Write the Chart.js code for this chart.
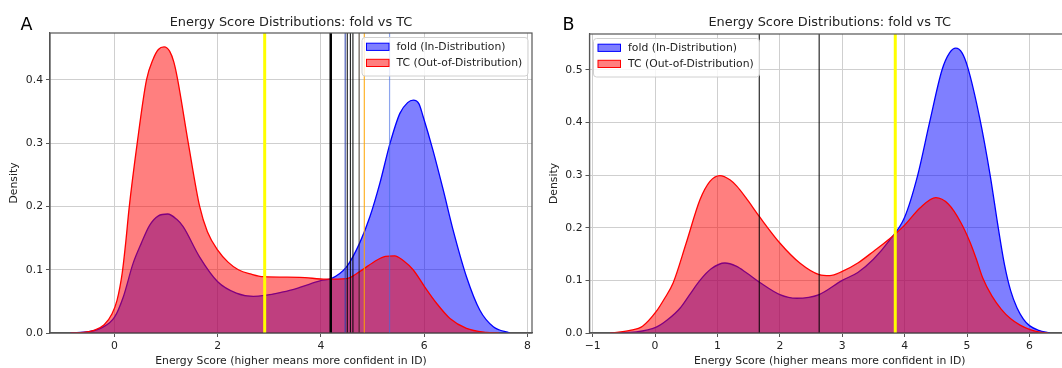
<!DOCTYPE html>
<html>
<head>
<meta charset="utf-8">
<script src="https://cdn.jsdelivr.net/npm/chart.js@4.4.0/dist/chart.umd.min.js"></script>
<style>
html, body { margin: 0; padding: 0; background: #fff; }
#wrap { position: relative; width: 1062px; height: 368px; overflow: hidden; }
canvas { position: absolute; top: 0; }
#cA { left: 0; }
#cB { left: 540px; }
</style>
</head>
<body>
<div id="wrap">
  <canvas id="cA" width="540" height="368"></canvas>
  <canvas id="cB" width="540" height="368"></canvas>
</div>
<script>
// ---- panel A: densities ----
var aFoldX = [-0.85, -0.5, -0.25, 0, 0.17, 0.36, 0.52, 0.68, 0.85, 1.03, 1.2, 1.33, 1.65, 2.0, 2.36, 2.69, 3.27, 3.59, 4.01, 4.2, 4.5, 4.75, 4.95, 5.14, 5.34, 5.53, 5.68, 5.79, 5.9, 5.98, 6.17, 6.37, 6.56, 6.82, 7.08, 7.34, 7.66];
var aFoldY = [0, 0.002, 0.008, 0.025, 0.057, 0.11, 0.142, 0.17, 0.185, 0.188, 0.18, 0.168, 0.12, 0.081, 0.063, 0.058, 0.065, 0.072, 0.083, 0.086, 0.105, 0.142, 0.184, 0.236, 0.30, 0.347, 0.364, 0.368, 0.362, 0.342, 0.289, 0.226, 0.163, 0.089, 0.036, 0.01, 0];
var aTcX = [-0.85, -0.6, -0.4, -0.2, -0.05, 0.05, 0.15, 0.22, 0.28, 0.44, 0.62, 0.75, 0.85, 0.96, 1.07, 1.15, 1.22, 1.43, 1.65, 1.8, 2.0, 2.2, 2.4, 2.65, 2.88, 3.59, 4.1, 4.5, 4.75, 5.08, 5.25, 5.43, 5.6, 5.79, 6.01, 6.24, 6.5, 6.82, 7.21, 7.45];
var aTcY = [0, 0.001, 0.004, 0.013, 0.03, 0.052, 0.095, 0.145, 0.195, 0.3, 0.4, 0.433, 0.448, 0.452, 0.445, 0.428, 0.402, 0.3, 0.2, 0.16, 0.131, 0.112, 0.1, 0.093, 0.089, 0.088, 0.085, 0.086, 0.097, 0.115, 0.121, 0.122, 0.114, 0.0995, 0.073, 0.047, 0.023, 0.0074, 0.001, 0];
var aCutX = [2.91, 4.19, 4.47, 4.51, 4.57, 4.62, 4.74, 4.84, 5.33];
var aXTicks = [0, 2, 4, 6, 8];
var aYTicks = [0, 0.1, 0.2, 0.3, 0.4];

// ---- panel B ----
var bFoldX = [-0.7, -0.3, 0.02, 0.2, 0.4, 0.55, 0.72, 0.9, 1.12, 1.3, 1.47, 1.68, 2.0, 2.27, 2.63, 3.0, 3.25, 3.5, 3.75, 4.0, 4.21, 4.4, 4.6, 4.72, 4.82, 4.92, 5.01, 5.2, 5.37, 5.5, 5.6, 5.7, 5.8, 5.9, 6.0, 6.15, 6.32];
var bFoldY = [0, 0.002, 0.011, 0.025, 0.047, 0.072, 0.10, 0.122, 0.133, 0.127, 0.114, 0.096, 0.073, 0.066, 0.073, 0.10, 0.115, 0.14, 0.175, 0.22, 0.3, 0.4, 0.5, 0.532, 0.541, 0.532, 0.505, 0.41, 0.3, 0.2, 0.13, 0.08, 0.048, 0.027, 0.014, 0.005, 0];
var bTcX = [-0.72, -0.4, -0.2, 0.02, 0.15, 0.29, 0.5, 0.72, 0.88, 1.04, 1.2, 1.31, 1.45, 1.68, 2.0, 2.32, 2.63, 2.8, 3.0, 3.25, 3.5, 3.75, 4.0, 4.25, 4.5, 4.7, 4.9, 5.05, 5.15, 5.25, 5.4, 5.55, 5.7, 5.85, 6.0, 6.15, 6.3];
var bTcY = [0, 0.005, 0.013, 0.041, 0.065, 0.095, 0.171, 0.253, 0.288, 0.299, 0.291, 0.279, 0.258, 0.22, 0.171, 0.133, 0.111, 0.109, 0.117, 0.133, 0.155, 0.178, 0.205, 0.238, 0.257, 0.245, 0.21, 0.172, 0.14, 0.105, 0.07, 0.045, 0.027, 0.015, 0.007, 0.002, 0];
var bCutX = [1.67, 2.63, 3.85];
var bXTicks = [-1, 0, 1, 2, 3, 4, 5, 6];
var bYTicks = [0, 0.1, 0.2, 0.3, 0.4, 0.5];

// styles for the threshold lines (same order as the cut arrays)
var aCutStyle = [
  { color: '#ffff00', width: 3 },
  { color: '#000000', width: 2.5 },
  { color: '#2a3fa8', width: 1 },
  { color: '#000000', width: 1 },
  { color: '#000000', width: 1 },
  { color: '#000000', width: 1 },
  { color: 'rgba(40,25,10,0.85)', width: 1 },
  { color: '#ffa500', width: 1 },
  { color: 'rgba(65,105,225,0.6)', width: 1.2 }
];
var bCutStyle = [
  { color: '#000000', width: 1 },
  { color: '#000000', width: 1 },
  { color: '#ffff00', width: 3 }
];

var FONT = '"DejaVu Sans", sans-serif';
var TXT = '#222';
var GRID = '#cfcfcf';
var SPINE = '#555';
var TITLE = 'Energy Score Distributions: fold vs TC';
var XLABEL = 'Energy Score (higher means more confident in ID)';
var FOLD_LBL = 'fold (In-Distribution)';
var TC_LBL = 'TC (Out-of-Distribution)';
var BLUE_FILL = 'rgba(0,0,255,0.5)', RED_FILL = 'rgba(255,0,0,0.5)';

function pts(xs, ys) {
  return xs.map(function (x, i) { return { x: x, y: ys[i] }; });
}

function curve(label, xs, ys, line, fillc, order) {
  return {
    label: label, data: pts(xs, ys),
    borderColor: line, backgroundColor: fillc, borderWidth: 1.3,
    fill: 'origin', pointRadius: 0, cubicInterpolationMode: 'monotone', order: order
  };
}

function cutLine(x, st, yTop) {
  return {
    label: '', data: [{ x: x, y: 0 }, { x: x, y: yTop }],
    borderColor: st.color, borderWidth: st.width, pointRadius: 0, fill: false, order: 0
  };
}

function fmtX(v) { return v < 0 ? '\u2212' + Math.abs(v) : String(v); }
function fmtY(v) { return v.toFixed(1); }

function decorPlugin(p) {
  return {
    id: 'decor',
    afterDatasetsDraw: function (chart) {
      var ctx = chart.ctx, ca = chart.chartArea;
      ctx.save();
      // four spines like matplotlib
      ctx.strokeStyle = SPINE; ctx.lineWidth = 1.2;
      ctx.strokeRect(ca.left, ca.top, ca.right - ca.left, ca.bottom - ca.top);

      // legend box
      var w = 166, h = 38.5;
      var lx = p.legendRight ? ca.right - 4 - w : ca.left + 4;
      var ly = ca.top + 4.5;
      ctx.fillStyle = 'rgba(255,255,255,0.8)';
      ctx.strokeStyle = '#d0d0d0'; ctx.lineWidth = 1;
      ctx.beginPath(); ctx.roundRect(lx, ly, w, h, 3); ctx.fill(); ctx.stroke();
      var items = [
        { label: FOLD_LBL, fill: BLUE_FILL, line: '#0000ff' },
        { label: TC_LBL, fill: RED_FILL, line: '#ff0000' }
      ];
      ctx.font = '10.8px ' + FONT;
      ctx.textBaseline = 'middle';
      items.forEach(function (it, i) {
        var cy = ly + 9.3 + i * 16.1;
        ctx.fillStyle = it.fill;
        ctx.fillRect(lx + 4.5, cy - 3.6, 22.5, 7.2);
        ctx.strokeStyle = it.line; ctx.lineWidth = 1;
        ctx.strokeRect(lx + 4.5, cy - 3.6, 22.5, 7.2);
        ctx.fillStyle = TXT;
        ctx.fillText(it.label, lx + 34.5, cy);
      });

      // title and panel letter
      ctx.fillStyle = TXT;
      ctx.textAlign = 'center';
      ctx.font = '12.9px ' + FONT;
      ctx.fillText(TITLE, (ca.left + ca.right) / 2, 22.5);
      ctx.fillStyle = '#000';
      ctx.textAlign = 'left';
      ctx.textBaseline = 'alphabetic';
      ctx.font = '17.5px ' + FONT;
      ctx.fillText(p.letter, p.letterX, 29.5);
      ctx.restore();
    }
  };
}

function panel(id, p) {
  var datasets = [
    curve(FOLD_LBL, p.foldX, p.foldY, '#0000ff', BLUE_FILL, 2),
    curve(TC_LBL, p.tcX, p.tcY, '#ff0000', RED_FILL, 1)
  ];
  p.cutX.forEach(function (x, i) { datasets.push(cutLine(x, p.cutStyle[i], p.yMax)); });

  new Chart(document.getElementById(id), {
    type: 'line',
    data: { datasets: datasets },
    options: {
      responsive: false,
      animation: false,
      events: [],
      layout: { padding: { top: p.top, right: p.right, left: 0, bottom: 0 } },
      plugins: { legend: { display: false }, tooltip: { enabled: false } },
      scales: {
        x: {
          type: 'linear', min: p.xMin, max: p.xMax,
          afterBuildTicks: function (s) { s.ticks = p.xTicks.map(function (v) { return { value: v }; }); },
          afterFit: function (s) { s.height = 35; },
          grid: { color: GRID, lineWidth: 1, tickLength: 4, tickColor: SPINE },
          border: { color: SPINE, width: 1.2 },
          ticks: { color: TXT, font: { family: FONT, size: 10.8 }, padding: 3, maxRotation: 0, callback: fmtX },
          title: { display: true, text: XLABEL, color: TXT, font: { family: FONT, size: 10.8 }, padding: { top: 0, bottom: 0 } }
        },
        y: {
          type: 'linear', min: 0, max: p.yMax,
          afterBuildTicks: function (s) { s.ticks = p.yTicks.map(function (v) { return { value: v }; }); },
          afterFit: function (s) { s.width = p.yWidth; },
          grid: { color: GRID, lineWidth: 1, tickLength: 4, tickColor: SPINE },
          border: { color: SPINE, width: 1.2 },
          ticks: { color: TXT, font: { family: FONT, size: 10.8 }, padding: 3, callback: fmtY },
          title: { display: true, text: 'Density', color: TXT, font: { family: FONT, size: 10.8 }, padding: { top: 7.5, bottom: 0 } }
        }
      }
    },
    plugins: [decorPlugin(p)]
  });
}

panel('cA', {
  foldX: aFoldX, foldY: aFoldY, tcX: aTcX, tcY: aTcY,
  cutX: aCutX, cutStyle: aCutStyle, xTicks: aXTicks, yTicks: aYTicks,
  xMin: -1.25, xMax: 8.09, yMax: 0.474,
  top: 33, right: 8, yWidth: 50,
  letter: 'A', letterX: 20.5, legendRight: true
});

panel('cB', {
  foldX: bFoldX, foldY: bFoldY, tcX: bTcX, tcY: bTcY,
  cutX: bCutX, cutStyle: bCutStyle, xTicks: bXTicks, yTicks: bYTicks,
  xMin: -1.05, xMax: 6.65, yMax: 0.568,
  top: 34, right: 10, yWidth: 49.5,
  letter: 'B', letterX: 22.5, legendRight: false
});
</script>
</body>
</html>
